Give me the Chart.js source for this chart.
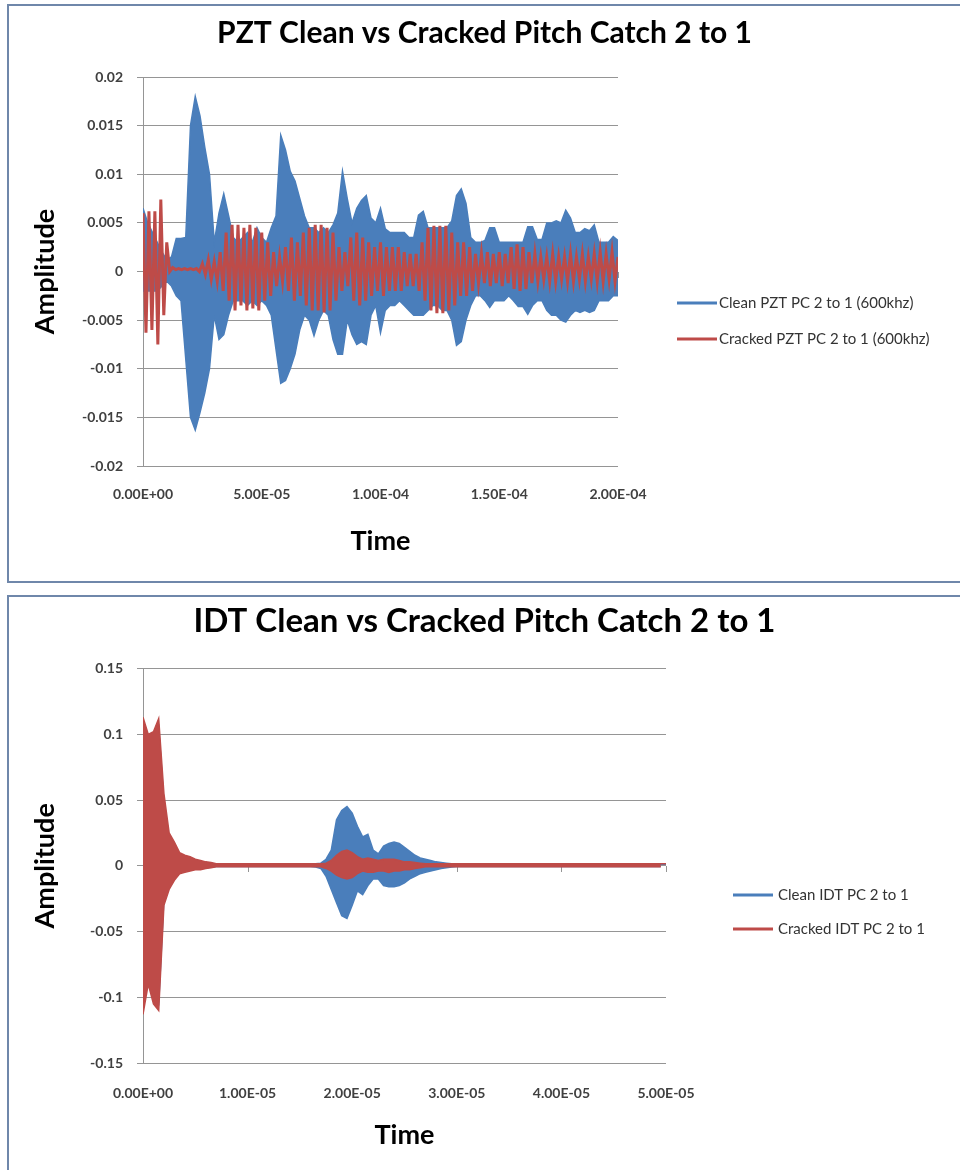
<!DOCTYPE html>
<html>
<head>
<meta charset="utf-8">
<script src="https://cdn.jsdelivr.net/npm/chart.js@4.4.1/dist/chart.umd.min.js"></script>
<style>
html,body{margin:0;padding:0;background:#fff;}
body{width:960px;height:1170px;position:relative;overflow:hidden;font-family:Lato,sans-serif;}
.box{position:absolute;left:7px;border:2px solid #6f87aa;background:#fff;}
#box1{top:4px;width:980px;height:575px;}
#box2{top:595px;width:980px;height:600px;}
.box canvas{position:absolute;left:0;top:0;}
</style>
</head>
<body>
<div class="box" id="box1"><canvas id="pzt" width="951" height="575"></canvas></div>
<div class="box" id="box2"><canvas id="idt" width="951" height="573"></canvas></div>
<script>
// ================= DATA =================
const pztTitle = 'PZT Clean vs Cracked Pitch Catch 2 to 1';
const idtTitle = 'IDT Clean vs Cracked Pitch Catch 2 to 1';
const pztSeriesNames = ['Clean PZT PC 2 to 1 (600khz)', 'Cracked PZT PC 2 to 1 (600khz)'];
const idtSeriesNames = ['Clean IDT PC 2 to 1', 'Cracked IDT PC 2 to 1'];
const xAxisTitle = 'Time';
const yAxisTitle = 'Amplitude';

// axis ranges / tick steps
const pztTimeRange = [0, 2e-4];
const pztTimeTickStep = 5e-5;
const pztAmpRange = [-0.02, 0.02];
const pztAmpTickStep = 0.005;
const idtTimeRange = [0, 5e-5];
const idtTimeTickStep = 1e-5;
const idtAmpRange = [-0.15, 0.15];
const idtAmpTickStep = 0.05;

// sample spacing of the read-off peak values (seconds)
const pztCleanStep = 2e-6;
const pztCrackedStep = 2.5e-6;
const idtStep = 5e-7;

// PZT clean: positive peaks and negative peaks, one pair per step
const pztCleanHi = [
 0.0065,0.0050,0.0040,0.0030,0.0020,0.0012,0.0015,0.0034,0.0034,0.0035,
 0.0150,0.0180,0.0160,0.0128,0.0100,0.0030,0.0060,0.0080,0.0058,0.0035,
 0.0030,0.0035,0.0040,0.0030,0.0045,0.0035,0.0030,0.0045,0.0057,0.0140,
 0.0125,0.0103,0.0093,0.0075,0.0057,0.0045,0.0045,0.0040,0.0045,0.0040,
 0.0048,0.0060,0.0103,0.0075,0.0050,0.0065,0.0073,0.0078,0.0055,0.0050,
 0.0065,0.0044,0.0040,0.0040,0.0040,0.0040,0.0035,0.0035,0.0058,0.0062,
 0.0045,0.0045,0.0045,0.0045,0.0045,0.0052,0.0078,0.0085,0.0070,0.0035,
 0.0030,0.0030,0.0032,0.0045,0.0045,0.0030,0.0030,0.0030,0.0030,0.0030,
 0.0030,0.0046,0.0046,0.0033,0.0033,0.0050,0.0050,0.0052,0.0050,0.0063,
 0.0055,0.0040,0.0040,0.0044,0.0042,0.0048,0.0030,0.0030,0.0030,0.0036,
 0.0032
];
const pztCleanLo = [
 -0.0020,-0.0020,-0.0020,-0.0020,-0.0015,-0.0010,-0.0015,-0.0025,-0.0030,-0.0090,
 -0.0150,-0.0163,-0.0145,-0.0125,-0.0100,-0.0045,-0.0070,-0.0065,-0.0045,-0.0030,
 -0.0030,-0.0030,-0.0035,-0.0030,-0.0035,-0.0030,-0.0035,-0.0045,-0.0080,-0.0115,
 -0.0112,-0.0100,-0.0085,-0.0060,-0.0045,-0.0050,-0.0066,-0.0050,-0.0040,-0.0045,
 -0.0070,-0.0085,-0.0085,-0.0050,-0.0065,-0.0075,-0.0072,-0.0075,-0.0045,-0.0035,
 -0.0063,-0.0040,-0.0035,-0.0035,-0.0030,-0.0035,-0.0040,-0.0045,-0.0045,-0.0045,
 -0.0040,-0.0035,-0.0035,-0.0040,-0.0040,-0.0050,-0.0076,-0.0072,-0.0050,-0.0035,
 -0.0025,-0.0025,-0.0030,-0.0037,-0.0030,-0.0030,-0.0030,-0.0025,-0.0030,-0.0036,
 -0.0036,-0.0044,-0.0035,-0.0030,-0.0030,-0.0040,-0.0045,-0.0045,-0.0050,-0.0052,
 -0.0045,-0.0040,-0.0042,-0.0040,-0.0042,-0.0040,-0.0030,-0.0030,-0.0030,-0.0025,
 -0.0025
];
// PZT cracked: positive peaks (at k*step) and negative peaks (at (k+0.5)*step)
const pztCrackedHi = [
 0.0060,0.0062,0.0062,0.0074,0.0030,0.0004,0.0003,0.0003,0.0003,0.0003,
 0.0008,0.0012,0.0010,0.0020,0.0040,0.0048,0.0048,0.0045,0.0048,0.0045,
 0.0040,0.0030,0.0020,0.0015,0.0025,0.0035,0.0030,0.0040,0.0045,0.0048,
 0.0048,0.0045,0.0040,0.0025,0.0020,0.0035,0.0040,0.0035,0.0030,0.0025,
 0.0030,0.0025,0.0025,0.0025,0.0020,0.0018,0.0018,0.0030,0.0045,0.0047,
 0.0047,0.0047,0.0040,0.0030,0.0030,0.0025,0.0018,0.0018,0.0020,0.0018,
 0.0020,0.0018,0.0025,0.0028,0.0025,0.0020,0.0018,0.0015,0.0015,0.0018,
 0.0015,0.0015,0.0018,0.0015,0.0018,0.0015,0.0018,0.0020,0.0018,0.0020,
 0.0015
];
const pztCrackedLo = [
 -0.0063,-0.0060,-0.0075,-0.0045,0.0000,0.0002,0.0002,0.0002,0.0002,0.0000,
 -0.0003,-0.0008,-0.0010,-0.0020,-0.0030,-0.0040,-0.0035,-0.0040,-0.0038,-0.0040,
 -0.0030,-0.0025,-0.0015,-0.0010,-0.0020,-0.0030,-0.0025,-0.0035,-0.0040,-0.0040,
 -0.0042,-0.0040,-0.0030,-0.0020,-0.0015,-0.0030,-0.0035,-0.0030,-0.0025,-0.0020,
 -0.0025,-0.0020,-0.0020,-0.0020,-0.0015,-0.0015,-0.0020,-0.0030,-0.0040,-0.0043,
 -0.0043,-0.0040,-0.0035,-0.0025,-0.0025,-0.0020,-0.0012,-0.0012,-0.0015,-0.0012,
 -0.0015,-0.0012,-0.0018,-0.0020,-0.0018,-0.0012,-0.0010,-0.0008,-0.0010,-0.0010,
 -0.0008,-0.0010,-0.0010,-0.0008,-0.0010,-0.0008,-0.0010,-0.0010,-0.0008,-0.0010
];

// IDT clean
const idtCleanHi = [
 0.108,0.095,0.098,0.106,0.048,0.020,0.014,0.008,0.006,0.005,
 0.004,0.003,0.0025,0.002,0.0012,0.0012,0.0012,0.0012,0.0012,0.0012,
 0.0012,0.0012,0.0012,0.0012,0.0012,0.0012,0.0012,0.0012,0.0012,0.0012,
 0.0012,0.0012,0.0012,0.0015,0.002,0.005,0.012,0.035,0.042,0.045,
 0.040,0.030,0.022,0.024,0.012,0.009,0.015,0.017,0.018,0.017,
 0.014,0.011,0.008,0.006,0.005,0.004,0.003,0.0025,0.002,0.0015,
 0.0012,0.0012,0.0012,0.0012,0.0012,0.0012,0.0012,0.0012,0.0012,0.0012,
 0.0012,0.0012,0.0012,0.0012,0.0012,0.0012,0.0012,0.0012,0.0012,0.0012,
 0.0012,0.0012,0.0012,0.0012,0.0012,0.0012,0.0012,0.0012,0.0012,0.0012,
 0.0012,0.0012,0.0012,0.0012,0.0012,0.0012,0.0012,0.0012,0.0012,0.0012,
 0.0012
];
const idtCleanLo = [
 -0.108,-0.085,-0.100,-0.105,-0.025,-0.016,-0.010,-0.005,-0.004,-0.003,
 -0.0025,-0.002,-0.0015,-0.0012,-0.0006,-0.0006,-0.0006,-0.0006,-0.0006,-0.0006,
 -0.0006,-0.0006,-0.0006,-0.0006,-0.0006,-0.0006,-0.0006,-0.0006,-0.0006,-0.0006,
 -0.0006,-0.0006,-0.0006,-0.001,-0.002,-0.008,-0.018,-0.028,-0.038,-0.040,
 -0.030,-0.019,-0.022,-0.015,-0.010,-0.010,-0.015,-0.016,-0.016,-0.015,
 -0.013,-0.010,-0.008,-0.006,-0.005,-0.004,-0.003,-0.002,-0.0015,-0.001,
 -0.0006,-0.0006,-0.0006,-0.0006,-0.0006,-0.0006,-0.0006,-0.0006,-0.0006,-0.0006,
 -0.0006,-0.0006,-0.0006,-0.0006,-0.0006,-0.0006,-0.0006,-0.0006,-0.0006,-0.0006,
 -0.0006,-0.0006,-0.0006,-0.0006,-0.0006,-0.0006,-0.0006,-0.0006,-0.0006,-0.0006,
 -0.0006,-0.0006,-0.0006,-0.0006,-0.0006,-0.0006,-0.0006,-0.0006,-0.0006,-0.0006
];
// IDT cracked
const idtCrackedHi = [
 0.113,0.100,0.102,0.112,0.055,0.025,0.018,0.010,0.008,0.007,
 0.005,0.004,0.003,0.0025,0.0015,0.0015,0.0015,0.0015,0.0015,0.0015,
 0.0015,0.0015,0.0015,0.0015,0.0015,0.0015,0.0015,0.0015,0.0015,0.0015,
 0.0015,0.0015,0.0015,0.0015,0.0015,0.002,0.004,0.008,0.011,0.012,
 0.010,0.007,0.005,0.006,0.005,0.004,0.005,0.005,0.005,0.004,
 0.003,0.003,0.0025,0.002,0.0015,0.0015,0.0015,0.0015,0.0015,0.0015,
 0.0015,0.0015,0.0015,0.0015,0.0015,0.0015,0.0015,0.0015,0.0015,0.0015,
 0.0015,0.0015,0.0015,0.0015,0.0015,0.0015,0.0015,0.0015,0.0015,0.0015,
 0.0015,0.0015,0.0015,0.0015,0.0015,0.0015,0.0015,0.0015,0.0015,0.0015,
 0.0015,0.0015,0.0015,0.0015,0.0015,0.0015,0.0015,0.0015,0.0015,0.0015,
 0.0015
];
const idtCrackedLo = [
 -0.113,-0.090,-0.105,-0.110,-0.030,-0.018,-0.011,-0.006,-0.005,-0.004,
 -0.003,-0.003,-0.002,-0.0015,-0.0008,-0.0008,-0.0008,-0.0008,-0.0008,-0.0008,
 -0.0008,-0.0008,-0.0008,-0.0008,-0.0008,-0.0008,-0.0008,-0.0008,-0.0008,-0.0008,
 -0.0008,-0.0008,-0.0008,-0.0008,-0.0008,-0.002,-0.004,-0.007,-0.009,-0.010,
 -0.009,-0.006,-0.004,-0.005,-0.005,-0.004,-0.004,-0.005,-0.004,-0.004,
 -0.003,-0.003,-0.002,-0.0015,-0.0008,-0.0008,-0.0008,-0.0008,-0.0008,-0.0008,
 -0.0008,-0.0008,-0.0008,-0.0008,-0.0008,-0.0008,-0.0008,-0.0008,-0.0008,-0.0008,
 -0.0008,-0.0008,-0.0008,-0.0008,-0.0008,-0.0008,-0.0008,-0.0008,-0.0008,-0.0008,
 -0.0008,-0.0008,-0.0008,-0.0008,-0.0008,-0.0008,-0.0008,-0.0008,-0.0008,-0.0008,
 -0.0008,-0.0008,-0.0008,-0.0008,-0.0008,-0.0008,-0.0008,-0.0008,-0.0008,-0.0008
];

// ================= STYLE =================
const BLUE = '#4a7ebb';
const RED = '#be4b48';
const GRID = '#959595';
const FONT = 'Lato';

function peaks(vals, step) {
  return vals.map((v, i) => ({x: i * step, y: v}));
}
// interleave the read positive / negative peaks into one oscillating trace
function trace(hi, lo, step) {
  const pts = [];
  for (let i = 0; i < hi.length; i++) {
    pts.push({x: i * step, y: hi[i]});
    if (i < lo.length) pts.push({x: (i + 0.5) * step, y: lo[i]});
  }
  return pts;
}

// a dense oscillation drawn as the filled band between its positive and negative peaks
function bandDatasets(name, color, hi, lo, step, order) {
  return [
    {label: name, data: peaks(hi, step), borderColor: color, backgroundColor: color,
     fill: '+1', borderWidth: 1.5, pointRadius: 0, tension: 0, order: order},
    {label: name, inLegend: false, data: peaks(lo, step), borderColor: color, backgroundColor: color,
     fill: false, borderWidth: 1.5, pointRadius: 0, tension: 0, order: order}
  ];
}

function sciLabel(v) {
  const s = Number(v).toExponential(2);
  const [m, e] = s.split('e');
  const n = parseInt(e, 10);
  return m + 'E' + (n < 0 ? '-' : '+') + String(Math.abs(n)).padStart(2, '0');
}

const zeroAxisTicks = {
  id: 'zeroAxisTicks',
  beforeDatasetsDraw(chart) {
    const xs = chart.scales.x, ys = chart.scales.y, ctx = chart.ctx;
    const y0 = Math.round(ys.getPixelForValue(0));
    ctx.save();
    ctx.strokeStyle = GRID; ctx.lineWidth = 1;
    ctx.beginPath();
    xs.ticks.forEach(t => {
      const px = Math.round(xs.getPixelForValue(t.value)) + 0.5;
      ctx.moveTo(px, y0); ctx.lineTo(px, y0 + 6);
    });
    ctx.stroke();
    ctx.restore();
  }
};

const sideLegend = {
  id: 'sideLegend',
  afterDraw(chart, args, opts) {
    const ctx = chart.ctx;
    ctx.save();
    ctx.font = opts.fontSize + 'px ' + FONT;
    ctx.textBaseline = 'middle';
    ctx.textAlign = 'left';
    chart.data.datasets.filter(ds => ds.inLegend !== false).forEach((ds, k) => {
      const y = opts.y0 + k * opts.dy;
      ctx.strokeStyle = ds.borderColor; ctx.lineWidth = 3;
      ctx.beginPath(); ctx.moveTo(opts.x, y); ctx.lineTo(opts.x + opts.lineLen, y); ctx.stroke();
      ctx.fillStyle = '#333333';
      ctx.fillText(ds.label, opts.x + opts.lineLen + opts.gap, y);
    });
    ctx.restore();
  }
};

function makeChart(id, o, datasets) {
  return new Chart(document.getElementById(id), {
    type: 'line',
    data: {datasets: datasets},
    options: {
      responsive: false,
      animation: false,
      devicePixelRatio: 1,
      parsing: false,
      layout: {padding: 0},
      plugins: {
        legend: {display: false},
        tooltip: {enabled: false},
        title: {
          display: true, text: o.title, color: '#000',
          font: {family: FONT, size: o.titleSize, weight: 'bold'},
          padding: {top: o.titleTop, bottom: o.titleBottom}
        },
        sideLegend: o.legend
      },
      scales: {
        x: {
          type: 'linear', min: o.xRange[0], max: o.xRange[1],
          afterFit(s) { s.height = o.xHeight; s.paddingLeft = 0; s.paddingRight = 0; },
          grid: {display: false, drawTicks: false},
          border: {display: false},
          ticks: {stepSize: o.xStep, maxRotation: 0, autoSkip: false, padding: o.xTickPad,
                  color: '#404040', font: {family: FONT, size: 14, weight: 'bold'},
                  callback: v => sciLabel(v)},
          title: {display: true, text: xAxisTitle, color: '#000',
                  font: {family: FONT, size: 27, weight: 'bold'},
                  padding: {top: 0, bottom: o.xTitleBottom}}
        },
        y: {
          type: 'linear', min: o.yRange[0], max: o.yRange[1],
          afterFit(s) { s.width = 134; },
          grid: {color: GRID, lineWidth: 1, tickLength: 6, drawTicks: true},
          border: {display: true, color: GRID, width: 1},
          ticks: {stepSize: o.yStep, padding: 14, color: '#404040',
                  font: {family: FONT, size: 14, weight: 'bold'},
                  callback: v => String(parseFloat(Number(v).toFixed(6)))},
          title: {display: true, text: yAxisTitle, color: '#000',
                  font: {family: FONT, size: 27, weight: 'bold'},
                  padding: {top: 20, bottom: 0}}
        },
        legendSpace: {
          type: 'linear', position: 'right', display: true,
          afterFit(s) { s.width = o.rightSpace; },
          grid: {display: false, drawTicks: false},
          border: {display: false},
          ticks: {display: false}
        }
      }
    },
    plugins: [zeroAxisTicks, sideLegend]
  });
}

// PZT: clean is a dense band, cracked shows its oscillation
makeChart('pzt', {
  title: pztTitle, titleSize: 30,
  xRange: pztTimeRange, xStep: pztTimeTickStep, yRange: pztAmpRange, yStep: pztAmpTickStep,
  rightSpace: 342, titleTop: 9, titleBottom: 26, xHeight: 115, xTickPad: 20, xTitleBottom: 24,
  legend: {x: 668, y0: 297, dy: 36, lineLen: 40, gap: 2, fontSize: 15}
}, [
  ...bandDatasets(pztSeriesNames[0], BLUE, pztCleanHi, pztCleanLo, pztCleanStep, 1),
  {label: pztSeriesNames[1], data: trace(pztCrackedHi, pztCrackedLo, pztCrackedStep),
   borderColor: RED, backgroundColor: RED, fill: false, borderWidth: 3, pointRadius: 0, tension: 0, order: 0}
]);

// IDT: both signals are dense bands
makeChart('idt', {
  title: idtTitle, titleSize: 33,
  xRange: idtTimeRange, xStep: idtTimeTickStep, yRange: idtAmpRange, yStep: idtAmpTickStep,
  rightSpace: 294, titleTop: 5, titleBottom: 27, xHeight: 107, xTickPad: 22, xTitleBottom: 19,
  legend: {x: 724, y0: 298, dy: 34, lineLen: 40, gap: 5, fontSize: 15}
}, [
  ...bandDatasets(idtSeriesNames[0], BLUE, idtCleanHi, idtCleanLo, idtStep, 1),
  ...bandDatasets(idtSeriesNames[1], RED, idtCrackedHi, idtCrackedLo, idtStep, 0)
]);
</script>
</body>
</html>
